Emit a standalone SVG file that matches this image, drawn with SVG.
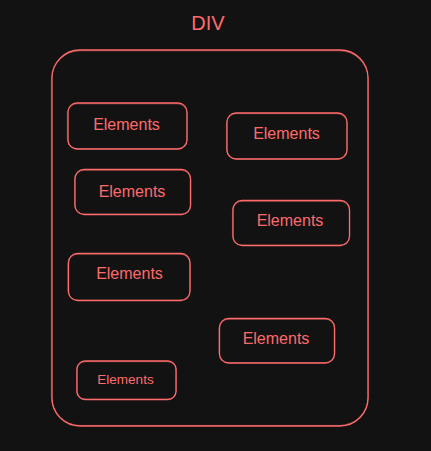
<svg xmlns="http://www.w3.org/2000/svg" width="431" height="451" viewBox="0 0 431 451">
<style>
.bg{fill:#121212}
.box{fill:none;stroke:#ff6b6b;stroke-width:1.3}
.ghost{fill:none;stroke:#ff6b6b;stroke-width:0.8;opacity:0.55}
.lbl{fill:#ff6b6b;font-family:"Liberation Sans",Arial,sans-serif;font-size:16px;text-anchor:middle}
.title{fill:#ff6b6b;font-family:"Liberation Sans",Arial,sans-serif;font-size:20px;text-anchor:middle}
</style>
<rect class="bg" x="0" y="0" width="431" height="451"/>
<text class="title" x="208" y="30">DIV</text>
<g id="div">
<rect class="box" x="52" y="50" width="316" height="376" rx="28"/>
<rect class="ghost" x="51.3" y="50.8" width="317" height="374.6" rx="29"/>
</g>
<g id="el1">
<rect class="box" x="68" y="103" width="119" height="46" rx="9"/>
<rect class="ghost" x="67.3" y="103.8" width="119.8" height="44.8" rx="10"/>
<text class="lbl" x="126.5" y="130">Elements</text>
</g>
<g id="el2">
<rect class="box" x="227" y="113" width="120" height="46" rx="9"/>
<rect class="ghost" x="226.4" y="113.7" width="120.6" height="45.2" rx="10"/>
<text class="lbl" x="286.5" y="139">Elements</text>
</g>
<g id="el3">
<rect class="box" x="75" y="169.5" width="115.5" height="45" rx="9"/>
<rect class="ghost" x="74.5" y="170.2" width="116.3" height="44" rx="10"/>
<text class="lbl" x="132" y="197">Elements</text>
</g>
<g id="el4">
<rect class="box" x="233" y="200.5" width="116.5" height="45" rx="9"/>
<rect class="ghost" x="232.4" y="201.2" width="117.3" height="44" rx="10"/>
<text class="lbl" x="290" y="225.5">Elements</text>
</g>
<g id="el5">
<rect class="box" x="68.5" y="253.5" width="121.5" height="47" rx="9"/>
<rect class="ghost" x="67.8" y="254.2" width="122.3" height="46" rx="10"/>
<text class="lbl" x="129.5" y="279">Elements</text>
</g>
<g id="el6">
<rect class="box" x="219.5" y="318.5" width="115" height="44.5" rx="9"/>
<rect class="ghost" x="219" y="319.2" width="115.8" height="43.5" rx="10"/>
<text class="lbl" x="276" y="344">Elements</text>
</g>
<g id="el7">
<rect class="box" x="77" y="361" width="99" height="38.5" rx="8"/>
<rect class="ghost" x="76.5" y="361.7" width="99.8" height="37.6" rx="9"/>
<text class="lbl" x="125.5" y="384" style="font-size:13.5px">Elements</text>
</g>
<g id="connectors"></g>
</svg>
